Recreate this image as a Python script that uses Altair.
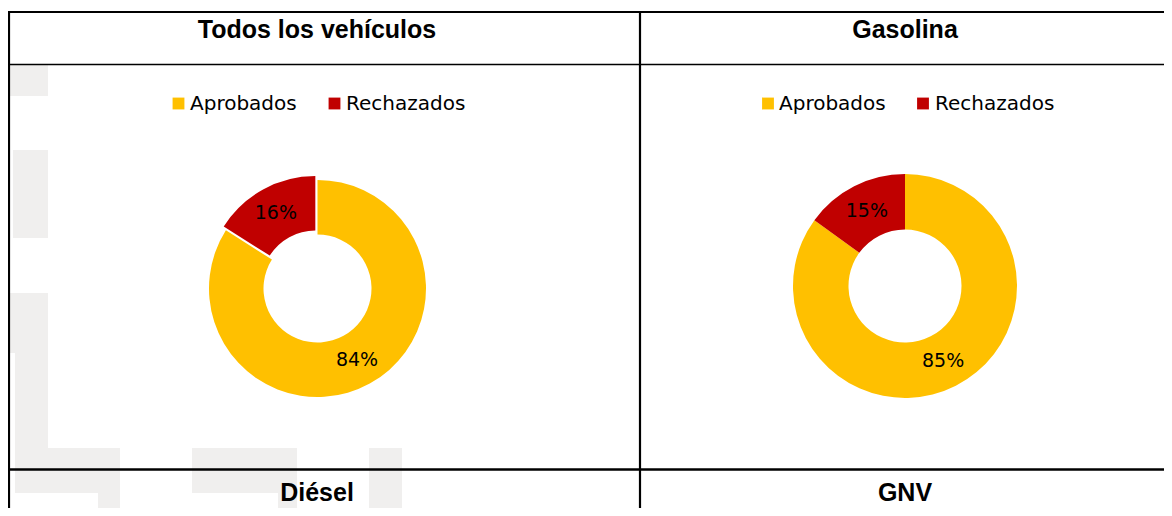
import math
import altair as alt
import pandas as pd

# ---------------- data ----------------
PANELS = ["Todos los vehículos", "Gasolina"]
BOTTOM_TITLES = ["Diésel", "GNV"]
CATEGORIES = ["Aprobados", "Rechazados"]
APROBADOS = [84, 85]
RECHAZADOS = [16, 15]
COLORS = ["#FFC000", "#C00000"]

# ---------------- layout (page pixels) ----------------
W, H = 1156, 500
CENTERS = [(317.5, 288.5), (905, 286)]
RADII = [(108.5, 54), (112, 56.5)]
EXPLODE = [4.5, 0]          # offset of the "Rechazados" slice
LABEL_R = [82, 84]
COL_CENTERS = [317, 905]
LEGEND_SQ = [(178.5, 334.5), (768, 923)]
LEGEND_TX = [(190, 346), (779, 935)]
LEGEND_Y = 103.5
TOP_TITLE_Y = 30
BOTTOM_TITLE_Y = 493

xs = alt.Scale(domain=[8, 8 + W], range=[0, W])
ys = alt.Scale(domain=[8, 8 + H], range=[0, H])
ts = alt.Scale(domain=[0, 100], range=[0, 2 * math.pi])
cs = alt.Scale(domain=CATEGORIES, range=COLORS)

# slices table
rows = []
for i, p in enumerate(PANELS):
    vals = [APROBADOS[i], RECHAZADOS[i]]
    start = 0
    for j, c in enumerate(CATEGORIES):
        v = vals[j]
        mid = (start + v / 2) / 100 * 2 * math.pi
        ex = EXPLODE[i] if c == "Rechazados" else 0
        cx = CENTERS[i][0] + ex * math.sin(mid)
        cy = CENTERS[i][1] - ex * math.cos(mid)
        rows.append(dict(panel=p, cat=c, value=v, t0=start, t1=start + v,
                         tm=start + v / 2, cx=cx, cy=cy, label=f"{v}%"))
        start += v
slices = pd.DataFrame(rows)

# legend table
leg = []
for i, p in enumerate(PANELS):
    for j, c in enumerate(CATEGORIES):
        leg.append(dict(panel=p, cat=c, sx=LEGEND_SQ[i][j], tx=LEGEND_TX[i][j], y=LEGEND_Y))
legend_df = pd.DataFrame(leg)

# titles table
titles = pd.DataFrame(
    [dict(t=PANELS[i], x=COL_CENTERS[i], y=TOP_TITLE_Y) for i in range(2)]
    + [dict(t=BOTTOM_TITLES[i], x=COL_CENTERS[i], y=BOTTOM_TITLE_Y) for i in range(2)]
)

# table lines
lines = pd.DataFrame([
    dict(x=8, x2=1164, y=12, y2=12, w=2.2),
    dict(x=9, x2=9, y=12, y2=508, w=2.2),
    dict(x=640, x2=640, y=12, y2=508, w=2.2),
    dict(x=8, x2=1164, y=64.5, y2=64.5, w=1.5),
    dict(x=8, x2=1164, y=469.5, y2=469.5, w=2.6),
])

# faint watermark shapes
wm = pd.DataFrame([
    dict(x=8, x2=48, y=65, y2=96),
    dict(x=13, x2=48, y=150, y2=238),
    dict(x=8, x2=48, y=293, y2=353),
    dict(x=15, x2=48, y=353, y2=448),
    dict(x=15, x2=120, y=448, y2=493),
    dict(x=98, x2=120, y=493, y2=508),
    dict(x=192, x2=297, y=448, y2=493),
    dict(x=278, x2=297, y=493, y2=508),
    dict(x=369, x2=402, y=448, y2=508),
])

wm_layer = alt.Chart(wm).mark_rect(color="#f0efee").encode(
    x=alt.X("x:Q", scale=xs, axis=None), x2="x2:Q",
    y=alt.Y("y:Q", scale=ys, axis=None), y2="y2:Q",
)

line_layer = alt.Chart(lines).mark_rule(color="#000000").encode(
    x=alt.X("x:Q", scale=xs, axis=None), x2="x2:Q",
    y=alt.Y("y:Q", scale=ys, axis=None), y2="y2:Q",
    strokeWidth=alt.StrokeWidth("w:Q", scale=None, legend=None),
)

layers = [wm_layer, line_layer]
for i, p in enumerate(PANELS):
    base = alt.Chart(slices).transform_filter(alt.datum.panel == p)
    arcs = base.mark_arc(outerRadius=RADII[i][0], innerRadius=RADII[i][1]).encode(
        x=alt.X("cx:Q", scale=xs, axis=None),
        y=alt.Y("cy:Q", scale=ys, axis=None),
        theta=alt.Theta("t0:Q", scale=ts, stack=None),
        theta2="t1:Q",
        color=alt.Color("cat:N", scale=cs, legend=None),
    )
    labels = base.mark_text(radius=LABEL_R[i], font="DejaVu Sans", fontSize=19,
                            color="#000000", align="center", baseline="middle").encode(
        x=alt.X("cx:Q", scale=xs, axis=None),
        y=alt.Y("cy:Q", scale=ys, axis=None),
        theta=alt.Theta("tm:Q", scale=ts, stack=None),
        text="label:N",
    )
    layers += [arcs, labels]

leg_sq = alt.Chart(legend_df).mark_square(size=140, opacity=1).encode(
    x=alt.X("sx:Q", scale=xs, axis=None),
    y=alt.Y("y:Q", scale=ys, axis=None),
    color=alt.Color("cat:N", scale=cs, legend=None),
)
leg_tx = alt.Chart(legend_df).mark_text(font="DejaVu Sans", fontSize=20, align="left",
                                         baseline="middle", color="#000000").encode(
    x=alt.X("tx:Q", scale=xs, axis=None),
    y=alt.Y("y:Q", scale=ys, axis=None),
    text="cat:N",
)
title_layer = alt.Chart(titles).mark_text(font="Liberation Sans", fontSize=25, fontWeight="bold",
                                           align="center", baseline="middle", color="#000000").encode(
    x=alt.X("x:Q", scale=xs, axis=None),
    y=alt.Y("y:Q", scale=ys, axis=None),
    text="t:N",
)
layers += [leg_sq, leg_tx, title_layer]

chart = alt.layer(*layers).properties(
    width=W, height=H, autosize=alt.AutoSizeParams(type="none"), padding=0,
    background="#ffffff",
).configure_view(stroke=None)

chart.save("out.html", embed_options={"renderer": "svg", "actions": False})
